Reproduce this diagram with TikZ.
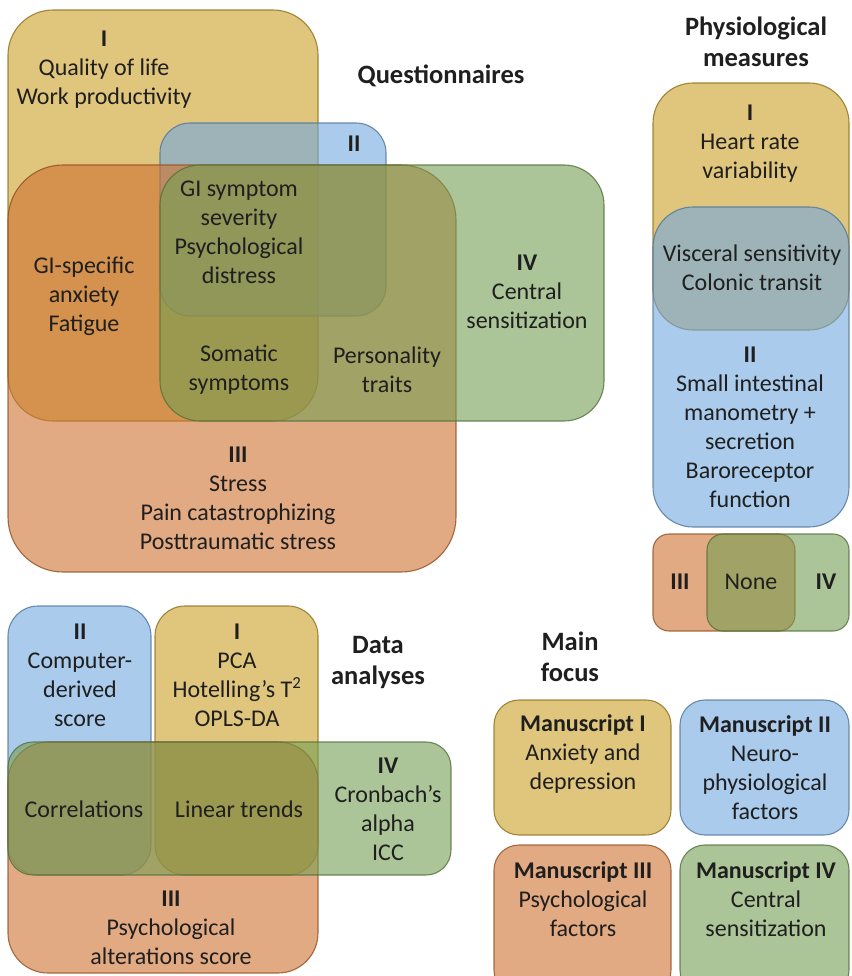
\documentclass[tikz,border=0pt]{standalone}
\usepackage{fontspec}
\setmainfont{Carlito}
\usetikzlibrary{positioning}
\definecolor{vyel}{RGB}{203,158,37}
\definecolor{vblu}{RGB}{113,168,222}
\definecolor{vorg}{RGB}{207,113,47}
\definecolor{vgrn}{RGB}{117,158,83}
\begin{document}
\begin{tikzpicture}[x=1pt,y=-1pt]
	\tikzstyle{venn}=[line width=1.1pt, fill opacity=0.6, draw opacity=0.8]
	\tikzstyle{yelbox}=[venn, fill=vyel, draw=vyel!70!black]
	\tikzstyle{blubox}=[venn, fill=vblu, draw=vblu!70!black]
	\tikzstyle{orgbox}=[venn, fill=vorg, draw=vorg!70!black]
	\tikzstyle{grnbox}=[venn, fill=vgrn, draw=vgrn!70!black]
	\tikzstyle{txt}=[align=center, inner sep=0pt, text=black!88, font=\fontsize{24}{29}\selectfont]
	\tikzstyle{head}=[txt, font=\fontsize{26.5}{31}\selectfont\bfseries]
	\clip (0,0) rectangle (851,976);
	
	% questionnaires
	\draw[yelbox, rounded corners=45] (8,10) rectangle (318,421);
	\draw[blubox, rounded corners=30] (160,123) rectangle (386,316);
	\draw[orgbox, rounded corners=55] (8,165) rectangle (456,572);
	\draw[grnbox, rounded corners=40] (160,165) rectangle (604,421);
	\node[head] (qtitle) at (441,76) {Questionnaires};
	\node[txt] (qI) at (104,70) {\textbf{I}\\Quality of life\\Work productivity};
	\node[txt] (qII) at (354,144) {\textbf{II}};
	\node[txt] (qIV) at (527,292) {\textbf{IV}\\Central\\sensitization};
	\node[txt] (qgi) at (239,232) {GI symptom\\severity\\Psychological\\distress};
	\node[txt] (qanx) at (84,296) {GI-specific\\anxiety\\Fatigue};
	\node[txt] (qsom) at (239,370) {Somatic\\symptoms};
	\node[txt] (qpers) at (387,370) {Personality\\traits};
	\node[txt] (qIII) at (238,498) {\textbf{III}\\Stress\\Pain catastrophizing\\Posttraumatic stress};
	
	% physiological measures
	\draw[yelbox, rounded corners=40] (653,83) rectangle (849,330);
	\draw[blubox, rounded corners=40] (653,207) rectangle (849,527);
	\draw[orgbox, rounded corners=16] (653,534) rectangle (795,631);
	\draw[grnbox, rounded corners=16] (707,534) rectangle (849,631);
	\node[head] (ptitle) at (756,42) {Physiological\\measures};
	\node[txt] (pI) at (750,144) {\textbf{I}\\Heart rate\\variability};
	\node[txt] (pvis) at (752,268) {Visceral sensitivity\\Colonic transit};
	\node[txt] (pII) at (750,427) {\textbf{II}\\Small intestinal\\manometry +\\secretion\\Baroreceptor\\function};
	\node[txt] (pIII) at (680,582) {\textbf{III}};
	\node[txt] (pnone) at (751,582) {None};
	\node[txt] (pIV) at (826,582) {\textbf{IV}};
	
	% data analyses
	\draw[blubox, rounded corners=30] (8,606) rectangle (151,875);
	\draw[yelbox, rounded corners=30] (155,606) rectangle (318,875);
	\draw[orgbox, rounded corners=40] (8,742) rectangle (318,973);
	\draw[grnbox, rounded corners=25] (8,742) rectangle (451,875);
	\node[head] (dtitle) at (378,662) {Data\\analyses};
	\node[txt] (dII) at (80,675) {\textbf{II}\\Computer-\\derived\\score};
	\node[txt] (dI) at (237,675) {\textbf{I}\\PCA\\Hotelling’s T\textsuperscript{2}\\OPLS-DA};
	\node[txt] (dcor) at (84,809) {Correlations};
	\node[txt] (dlin) at (239,809) {Linear trends};
	\node[txt] (dIV) at (388,809) {\textbf{IV}\\Cronbach’s\\alpha\\ICC};
	\node[txt] (dIII) at (171,928) {\textbf{III}\\Psychological\\alterations score};
	
	% main focus
	\draw[yelbox, rounded corners=25] (494,700) rectangle (671,835);
	\draw[blubox, rounded corners=25] (680,700) rectangle (849,835);
	\draw[orgbox, rounded corners=25] (494,845) rectangle (671,995);
	\draw[grnbox, rounded corners=25] (680,845) rectangle (849,995);
	\node[head] (mtitle) at (570,657) {Main\\focus};
	\node[txt] (mI) at (583,754) {\textbf{Manuscript I}\\Anxiety and\\depression};
	\node[txt] (mII) at (765,768) {\textbf{Manuscript II}\\Neuro-\\physiological\\factors};
	\node[txt] (mIII) at (583,899) {\textbf{Manuscript III}\\Psychological\\factors};
	\node[txt] (mIV) at (766,899) {\textbf{Manuscript IV}\\Central\\sensitization};
\end{tikzpicture}
\end{document}
